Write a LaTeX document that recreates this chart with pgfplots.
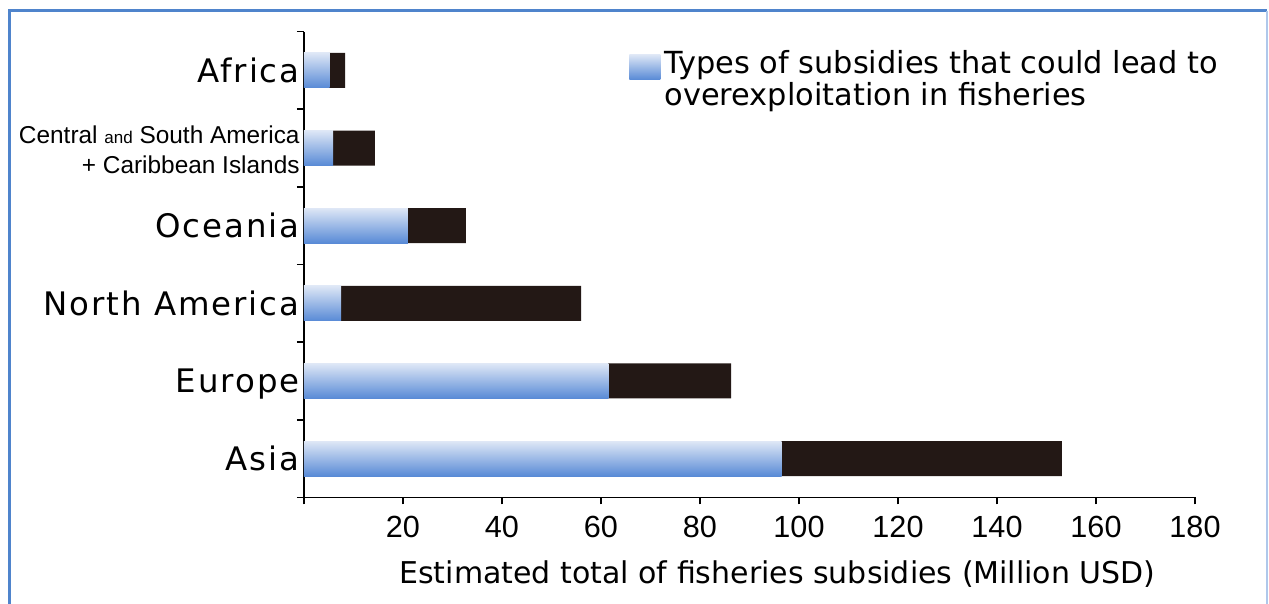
\documentclass[border=0pt]{standalone}
\usepackage{pgfplots}
\pgfplotsset{compat=1.18}
\usepackage{fontspec}
\setmainfont{DejaVu Sans}
\newfontfamily\catfont[LetterSpace=6]{DejaVu Sans}
\newfontfamily\libfont{Liberation Sans}
\definecolor{frameblue}{RGB}{79,132,204}
\definecolor{framelight}{RGB}{175,200,235}
\definecolor{bluetop}{RGB}{222,231,246}
\definecolor{bluebot}{RGB}{88,138,214}
\definecolor{barblack}{RGB}{35,24,21}
\newcommand{\centrallabel}{{\libfont\fontsize{12.2}{15}\selectfont\begin{tabular}[b]{@{}r@{}}Central {\fontsize{8.5}{10}\selectfont and} South America\\+ Caribbean Islands\end{tabular}}}
\newcommand{\legendtext}{\begin{tabular}[t]{@{}l@{}}Types of subsidies that could lead to\\overexploitation in fisheries\end{tabular}}
\begin{document}
\begin{tikzpicture}
\useasboundingbox (0,0) rectangle (634.5pt,302pt);
\draw[frameblue, line width=1.5pt] (4.75pt,-5pt) -- (4.75pt,296.5pt) -- (633.25pt,296.5pt);
\draw[framelight, line width=1pt] (633.25pt,296.5pt) -- (633.25pt,-5pt);
\begin{axis}[
  at={(152pt,53.25pt)}, anchor=south west,
  scale only axis, width=445.5pt, height=233pt,
  bar width=17.5pt,
  xmin=0, xmax=180, ymin=-0.5, ymax=5.5,
  axis x line*=bottom, axis y line*=left,
  axis line style={line width=0.8pt, black},
  tick align=outside,
  major tick length=3.5pt,
  tick style={line width=0.8pt, black},
  xtick={0,20,...,180},
  xticklabels={,20,40,60,80,100,120,140,160,180},
  xticklabel style={font=\libfont\fontsize{15.3}{18}\selectfont, inner sep=0pt, yshift=-5.5pt},
  ytick={-0.5,0.5,...,5.5},
  y tick label as interval,
  yticklabels={Asia,Europe,North America,Oceania,\centrallabel,Africa},
  yticklabel style={font=\catfont\fontsize{16.2}{19}\selectfont, text depth=0pt, inner ysep=0pt, inner xsep=0pt, xshift=1.5pt},
  xlabel={Estimated total of fisheries subsidies (Million USD)},
  xlabel style={at={(axis description cs:0.5314,-0.1856)}, anchor=base, font=\fontsize{15}{18}\selectfont, inner sep=0pt},
  legend style={at={(axis description cs:0.3648,0.9686)}, anchor=north west, draw=none, fill=none, inner sep=0pt,
    font=\fontsize{15.2}{14.6}\selectfont},
  legend cell align=left,
  legend image code/.code={\shade[top color=bluetop, bottom color=bluebot] (0pt,-8pt) rectangle (15.5pt,4.5pt);},
]
% totals (dark part visible beyond the blue part)
\addplot[xbar, bar shift=0pt, fill=barblack, draw=none, forget plot] coordinates {(153.1,0) (86.3,1) (56.0,2) (32.7,3) (14.3,4) (8.3,5)};
% subsidies that could lead to overexploitation
\addplot[xbar, bar shift=0pt, draw=none, top color=bluetop, bottom color=bluebot] coordinates {(96.5,0)};
\addlegendentry{\legendtext}
\addplot[xbar, bar shift=0pt, draw=none, top color=bluetop, bottom color=bluebot, forget plot] coordinates {(61.5,1)};
\addplot[xbar, bar shift=0pt, draw=none, top color=bluetop, bottom color=bluebot, forget plot] coordinates {(7.5,2)};
\addplot[xbar, bar shift=0pt, draw=none, top color=bluetop, bottom color=bluebot, forget plot] coordinates {(21.0,3)};
\addplot[xbar, bar shift=0pt, draw=none, top color=bluetop, bottom color=bluebot, forget plot] coordinates {(5.9,4)};
\addplot[xbar, bar shift=0pt, draw=none, top color=bluetop, bottom color=bluebot, forget plot] coordinates {(5.2,5)};
\end{axis}
\end{tikzpicture}
\end{document}
